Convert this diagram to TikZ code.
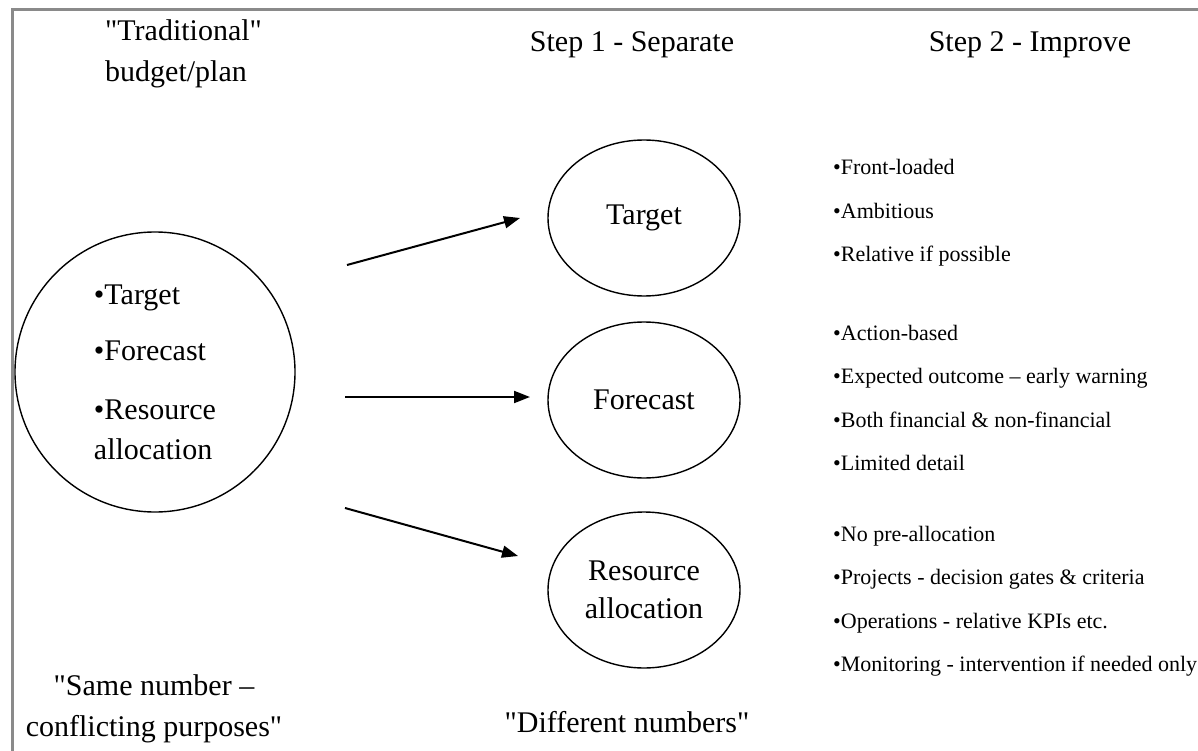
\documentclass[tikz,border=0pt]{standalone}
\usepackage{fontspec}
\setmainfont{Liberation Serif}[Ligatures=TeXOff]
\usepackage{tikz}
\usetikzlibrary{arrows.meta, positioning, shapes.geometric}
\definecolor{marco}{HTML}{8A8A8A}
\tikzset{
  oval/.style={draw, ellipse, line width=1.4pt, minimum width=192pt, minimum height=156pt,
               inner sep=0pt, align=center, font=\fontsize{30}{38}\selectfont},
  plan/.style={draw, circle, line width=1.4pt, minimum size=280pt, inner sep=0pt,
               align=left, font=\fontsize{30}{40}\selectfont},
  head/.style={inner sep=0pt, align=center, font=\fontsize{30}{41}\selectfont},
  note/.style={inner sep=0pt, anchor=west, align=left, font=\fontsize{22}{43.5}\selectfont},
  flecha/.style={-{Triangle[length=16pt,width=12pt]}, line width=2pt},
}

\begin{document}
\begin{tikzpicture}[x=1pt, y=-1pt]
  \useasboundingbox (0,0) rectangle (1198,751);
  \draw[marco, line width=3pt] (12,751) -- (12,10) -- (1198,10);
  % column heads
  \node[head, anchor=west, align=left] (trad) at (105,54) {"Traditional"\\budget/plan};
  \node[head] (s1) at (632,45) {Step 1 - Separate};
  \node[head] (s2) at (1030,45) {Step 2 - Improve};
  % budget and the three parts
  \node[plan] (bud) at (155,372) {•Target\\[16pt]•Forecast\\[19pt]•Resource\\allocation};
  \node[oval] (tgt) at (644,218) {Target};
  \node[oval] (fc) at (644,400) {Forecast};
  \node[oval] (res) at (644,590) {Resource\\allocation};
  \coordinate (t0) at (347,265); \coordinate (t1) at (520,218);
  \coordinate (f0) at (345,397); \coordinate (f1) at (530,397);
  \coordinate (r0) at (345,508); \coordinate (r1) at (518,556);
  \draw[flecha] (t0) -- (t1); \draw[flecha] (f0) -- (f1); \draw[flecha] (r0) -- (r1);
  % improvements
  \node[note] (l1) at (833,213) {•Front-loaded\\•Ambitious\\•Relative if possible};
  \node[note] (l2) at (833,398) {•Action-based\\•Expected outcome – early warning\\•Both financial \& non-financial\\•Limited detail};
  \node[note] (l3) at (833,601) {•No pre-allocation\\•Projects - decision gates \& criteria\\•Operations - relative KPIs etc.\\•Monitoring - intervention if needed only};
  % bottom captions
  \node[head] (same) at (154,709) {"Same number –\\conflicting purposes"};
  \node[head] (diff) at (627,722) {"Different numbers"};
\end{tikzpicture}
\end{document}
